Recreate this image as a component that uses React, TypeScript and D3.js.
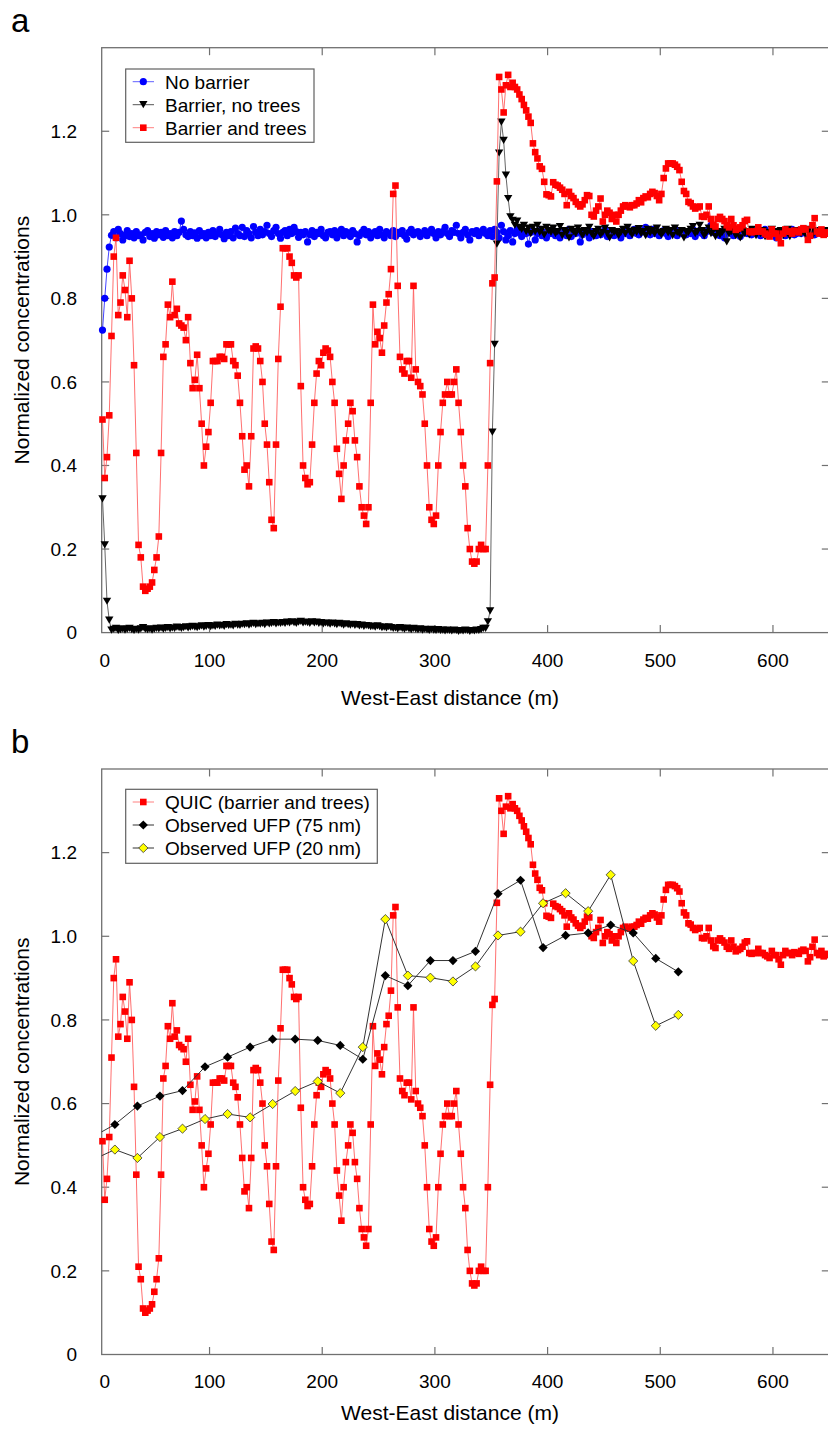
import React from 'react';
import * as d3 from 'd3';

// Model grid: distance (m) of the first QUIC cell and grid spacing
const GRID_START = 5;
const GRID_STEP = 2;

// QUIC: barrier and trees (red squares)
const barrierAndTrees = [
  0.51,0.37,0.42,0.52,0.71,0.90,0.945,0.76,0.79,0.855,
  0.82,0.755,0.89,0.80,0.64,0.43,0.21,0.18,0.11,0.10,
  0.105,0.11,0.12,0.15,0.18,0.23,0.43,0.66,0.69,0.785,
  0.755,0.84,0.76,0.775,0.74,0.735,0.73,0.70,0.755,0.645,
  0.585,0.605,0.665,0.585,0.50,0.40,0.445,0.48,0.55,0.65,
  0.65,0.65,0.66,0.66,0.655,0.69,0.69,0.69,0.65,0.64,
  0.615,0.55,0.47,0.39,0.40,0.35,0.47,0.68,0.685,0.68,
  0.65,0.60,0.50,0.45,0.36,0.27,0.25,0.45,0.655,0.78,
  0.92,0.92,0.92,0.90,0.885,0.855,0.85,0.855,0.59,0.40,
  0.37,0.355,0.36,0.45,0.55,0.62,0.65,0.64,0.67,0.68,
  0.675,0.66,0.60,0.55,0.44,0.38,0.32,0.40,0.46,0.50,
  0.55,0.53,0.46,0.42,0.35,0.30,0.28,0.26,0.30,0.55,
  0.785,0.69,0.72,0.705,0.67,0.735,0.79,0.81,0.87,1.05,
  1.07,0.83,0.66,0.63,0.62,0.65,0.65,0.61,0.83,0.63,
  0.60,0.59,0.57,0.50,0.40,0.30,0.27,0.26,0.28,0.40,
  0.48,0.55,0.57,0.60,0.57,0.57,0.60,0.63,0.55,0.48,
  0.40,0.35,0.25,0.20,0.17,0.165,0.17,0.20,0.21,0.20,
  0.20,0.40,0.645,0.836,0.85,1.08,1.33,1.30,1.245,1.31,
  1.335,1.306,1.316,1.306,1.30,1.288,1.277,1.263,1.25,1.235,
  1.22,1.171,1.15,1.135,1.116,1.11,1.079,1.049,1.047,1.044,
  1.078,1.072,1.07,1.065,1.06,1.05,1.023,1.055,1.045,1.04,
  1.031,1.025,1.02,1.025,1.035,1.047,1.045,1.0,0.996,1.01,
  1.02,1.039,0.984,1.0,1.01,1.005,0.99,1.0,0.984,1.0,
  1.01,1.02,1.023,1.02,1.018,1.023,1.023,1.027,1.035,1.03,
  1.04,1.044,1.042,1.05,1.055,1.052,1.045,1.035,1.05,1.088,
  1.111,1.123,1.123,1.123,1.12,1.115,1.107,1.079,1.057,1.05,
  1.031,1.028,1.02,1.015,1.018,1.02,0.996,0.995,1.0,1.02,
  0.99,0.976,0.972,0.99,0.995,0.99,0.985,0.975,0.97,0.99,
  0.975,0.964,0.967,0.97,0.975,0.985,0.988,0.96,0.958,0.96,
  0.96,0.97,0.96,0.96,0.955,0.952,0.948,0.965,0.955,0.955,
  0.945,0.932,0.955,0.965,0.96,0.96,0.955,0.962,0.96,0.958,
  0.965,0.968,0.965,0.94,0.95,0.975,0.992,0.96,0.955,0.965,
  0.952,0.958,0.955,
];

// QUIC: barrier, no trees (black triangles)
const barrierNoTrees = [
  0.32,0.21,0.075,0.03,0.006,0.008,0.01,0.005,0.007,0.009,
  0.006,0.008,0.01,0.007,0.005,0.008,0.006,0.009,0.012,0.008,
  0.007,0.009,0.006,0.008,0.01,0.009,0.011,0.008,0.01,0.012,
  0.009,0.011,0.01,0.013,0.012,0.01,0.012,0.014,0.011,0.013,
  0.015,0.013,0.012,0.014,0.016,0.013,0.015,0.017,0.014,0.016,
  0.015,0.018,0.016,0.017,0.015,0.019,0.017,0.018,0.016,0.02,
  0.018,0.017,0.02,0.019,0.021,0.018,0.02,0.022,0.019,0.021,
  0.02,0.022,0.019,0.023,0.021,0.022,0.024,0.021,0.023,0.022,
  0.024,0.022,0.025,0.023,0.026,0.024,0.022,0.025,0.027,0.023,
  0.025,0.024,0.022,0.026,0.023,0.025,0.022,0.024,0.021,0.023,
  0.022,0.02,0.023,0.021,0.019,0.022,0.02,0.018,0.021,0.019,
  0.018,0.02,0.017,0.019,0.016,0.018,0.015,0.017,0.016,0.014,
  0.015,0.013,0.016,0.014,0.012,0.013,0.011,0.014,0.012,0.01,
  0.011,0.009,0.012,0.01,0.008,0.011,0.009,0.007,0.01,0.008,
  0.007,0.009,0.006,0.008,0.007,0.005,0.008,0.006,0.005,0.007,
  0.005,0.006,0.004,0.006,0.005,0.004,0.006,0.005,0.003,0.005,
  0.004,0.006,0.005,0.003,0.005,0.004,0.006,0.005,0.007,0.01,
  0.01,0.026,0.052,0.48,0.69,0.93,1.148,1.222,1.178,1.095,
  1.039,0.995,0.987,0.975,0.985,0.97,0.965,0.975,0.96,0.968,
  0.955,0.97,0.96,0.975,0.958,0.965,0.952,0.97,0.962,0.958,
  0.968,0.955,0.96,0.972,0.95,0.962,0.958,0.945,0.965,0.96,
  0.955,0.968,0.96,0.95,0.962,0.957,0.97,0.955,0.948,0.96,
  0.965,0.952,0.958,0.968,0.955,0.945,0.962,0.958,0.96,0.95,
  0.958,0.965,0.955,0.97,0.96,0.952,0.963,0.958,0.967,0.955,
  0.96,0.95,0.965,0.957,0.962,0.955,0.968,0.958,0.952,0.96,
  0.965,0.957,0.962,0.95,0.968,0.958,0.955,0.962,0.945,0.96,
  0.958,0.965,0.972,0.955,0.96,0.975,0.962,0.95,0.958,0.968,
  0.955,0.962,0.948,0.96,0.952,0.958,0.965,0.935,0.955,0.96,
  0.962,0.95,0.958,0.945,0.962,0.955,0.96,0.952,0.965,0.958,
  0.95,0.96,0.955,0.962,0.948,0.958,0.952,0.965,0.96,0.955,
  0.958,0.962,0.95,0.956,0.965,0.948,0.96,0.955,0.962,0.958,
  0.955,0.96,0.952,0.965,0.958,0.95,0.962,0.956,0.96,0.953,
  0.958,0.962,0.955,
];

// QUIC: no barrier (blue circles)
const noBarrier = [
  0.724,0.80,0.87,0.923,0.951,0.96,0.945,0.965,0.955,0.94,
  0.95,0.962,0.948,0.955,0.945,0.96,0.95,0.952,0.94,0.958,
  0.962,0.948,0.955,0.944,0.96,0.952,0.958,0.946,0.962,0.95,
  0.955,0.945,0.96,0.95,0.958,0.985,0.965,0.952,0.948,0.96,
  0.95,0.957,0.944,0.962,0.95,0.955,0.945,0.958,0.95,0.962,
  0.948,0.955,0.965,0.952,0.943,0.958,0.95,0.96,0.945,0.968,
  0.955,0.95,0.97,0.948,0.962,0.955,0.945,0.972,0.958,0.95,
  0.965,0.952,0.96,0.975,0.955,0.948,0.962,0.97,0.955,0.944,
  0.958,0.962,0.95,0.965,0.955,0.97,0.96,0.946,0.958,0.952,
  0.96,0.935,0.952,0.962,0.948,0.958,0.955,0.965,0.95,0.945,
  0.958,0.96,0.952,0.962,0.945,0.955,0.965,0.95,0.96,0.956,
  0.948,0.962,0.955,0.935,0.95,0.958,0.965,0.952,0.96,0.945,
  0.955,0.96,0.95,0.965,0.952,0.945,0.96,0.955,0.95,0.962,
  0.948,0.958,0.955,0.962,0.95,0.942,0.958,0.965,0.952,0.958,
  0.96,0.948,0.955,0.962,0.95,0.958,0.965,0.955,0.945,0.96,
  0.952,0.96,0.97,0.955,0.948,0.962,0.958,0.975,0.955,0.945,
  0.958,0.965,0.952,0.94,0.96,0.955,0.962,0.95,0.958,0.965,
  0.955,0.95,0.962,0.948,0.965,0.958,0.945,0.975,0.96,0.94,
  0.95,0.962,0.935,0.955,0.965,0.958,0.948,0.96,0.955,0.93,
  0.958,0.962,0.94,0.955,0.965,0.95,0.958,0.945,0.96,0.955,
  0.962,0.95,0.958,0.945,0.96,0.955,0.95,0.965,0.948,0.958,
  0.955,0.96,0.935,0.952,0.962,0.958,0.945,0.96,0.955,0.95,
  0.96,0.952,0.958,0.965,0.948,0.955,0.962,0.95,0.958,0.96,
  0.945,0.958,0.955,0.962,0.95,0.96,0.965,0.955,0.952,0.958,
  0.962,0.97,0.958,0.952,0.965,0.955,0.96,0.95,0.958,0.962,
  0.955,0.948,0.96,0.958,0.965,0.95,0.955,0.962,0.958,0.952,
  0.96,0.955,0.965,0.948,0.958,0.962,0.955,0.95,0.96,0.965,
  0.975,0.958,0.962,0.955,0.95,0.96,0.945,0.958,0.962,0.955,
  0.95,0.96,0.955,0.948,0.962,0.958,0.955,0.96,0.952,0.958,
  0.962,0.955,0.95,0.958,0.965,0.952,0.958,0.955,0.96,0.945,
  0.958,0.962,0.955,0.95,0.96,0.958,0.965,0.952,0.955,0.96,
  0.955,0.958,0.962,0.95,0.96,0.955,0.952,0.958,0.962,0.955,
  0.958,0.955,0.96,
];

// Observed UFP along the transect (first station lies just west of the axis start)
const obsDistance = [-4,16,36,56,76,96,116,136,156,176,196,216,236,256,276,296,316,336,356,376,396,416,436,456,476,496,516];
const ufp75 = [0.52,0.55,0.594,0.618,0.631,0.688,0.711,0.735,0.754,0.754,0.751,0.739,0.706,0.906,0.882,0.942,0.942,0.964,1.102,1.134,0.973,1.002,1.008,1.027,1.008,0.947,0.915];
const ufp20 = [0.465,0.49,0.47,0.52,0.54,0.563,0.575,0.567,0.599,0.63,0.653,0.625,0.735,1.041,0.906,0.901,0.892,0.928,1.002,1.011,1.079,1.103,1.06,1.147,0.941,0.786,0.812];

const xTickValues = [0, 100, 200, 300, 400, 500, 600];
const yTickValues = [0, 0.2, 0.4, 0.6, 0.8, 1.0, 1.2];

const FONT = "'Liberation Sans', Arial, Helvetica, sans-serif";
const LEFT = 101.7;
const RIGHT = 829.3;
const x = d3.scaleLinear().domain([4.3, 650]).range([LEFT, RIGHT]);

type Pt = { d: number; v: number };
const gridSeries = (vals: number[]): Pt[] => vals.map((v, i) => ({ d: GRID_START + GRID_STEP * i, v }));

const SQUARE = 'M-3.3,-3.3h6.6v6.6h-6.6Z';
const TRI_DOWN = 'M-4.2,-3.6L4.2,-3.6L0,3.6Z';
const DIAMOND = 'M0,-4.6L4.6,0L0,4.6L-4.6,0Z';

function Markers({ pts, y, shape, fill, stroke, sw, r }: any) {
  return (
    <g>
      {pts.map((p: Pt, i: number) =>
        shape === 'circle' ? (
          <circle key={i} cx={x(p.d)} cy={y(p.v)} r={r} fill={fill} stroke={stroke} strokeWidth={sw} />
        ) : (
          <path key={i} d={shape} transform={`translate(${x(p.d)},${y(p.v)})`} fill={fill} stroke={stroke} strokeWidth={sw} />
        )
      )}
    </g>
  );
}

function Frame({ top, bottom, y, letter, letterY, labelDy, titleDy }: any) {
  const axisColor = '#707070';
  const tickLen = 7.5;
  return (
    <g fontFamily={FONT}>
      <text x={11} y={letterY} fontSize={33} fill="#000">{letter}</text>
      <rect x={LEFT} y={top} width={RIGHT - LEFT} height={bottom - top} fill="none" stroke={axisColor} strokeWidth={1.3} />
      {xTickValues.filter((t) => t > 0).map((t) => (
        <g key={'xt' + t}>
          <line x1={x(t)} x2={x(t)} y1={bottom} y2={bottom - tickLen} stroke={axisColor} strokeWidth={1.2} />
          <line x1={x(t)} x2={x(t)} y1={top} y2={top + tickLen} stroke={axisColor} strokeWidth={1.2} />
        </g>
      ))}
      {xTickValues.map((t) => (
        <text key={'xl' + t} x={t === 0 ? LEFT + 3 : x(t)} y={bottom + labelDy} fontSize={19} textAnchor="middle" fill="#000">
          {t}
        </text>
      ))}
      {yTickValues.filter((t) => t > 0).map((t) => (
        <g key={'yt' + t}>
          <line x1={LEFT} x2={LEFT + tickLen} y1={y(t)} y2={y(t)} stroke={axisColor} strokeWidth={1.2} />
          <line x1={RIGHT} x2={RIGHT - tickLen} y1={y(t)} y2={y(t)} stroke={axisColor} strokeWidth={1.2} />
        </g>
      ))}
      {yTickValues.map((t) => (
        <text key={'yl' + t} x={77} y={y(t) + 6.7} fontSize={19} textAnchor="end" fill="#000">
          {t === 0 ? '0' : d3.format('.1f')(t)}
        </text>
      ))}
      <text x={450} y={bottom + titleDy} fontSize={21} textAnchor="middle" fill="#000">
        West-East distance (m)
      </text>
      <text transform={`translate(29,${(top + bottom) / 2}) rotate(-90)`} fontSize={21} textAnchor="middle" fill="#000">
        Normalized concentrations
      </text>
    </g>
  );
}

function LegendBox({ top, right, height, items }: any) {
  const left = 125.7;
  return (
    <g fontFamily={FONT}>
      <rect x={left} y={top} width={right - left} height={height} fill="#fff" stroke="#606060" strokeWidth={1.2} />
      {items.map((it: any, i: number) => {
        const cy = top + 12.7 + i * 23;
        return (
          <g key={i}>
            <line x1={132.7} x2={154} y1={cy} y2={cy} stroke={it.line} strokeWidth={1} />
            {it.shape === 'circle' ? (
              <circle cx={143.3} cy={cy} r={3.6} fill={it.fill} />
            ) : (
              <path d={it.shape} transform={`translate(143.3,${cy})`} fill={it.fill} stroke={it.stroke} strokeWidth={it.sw} />
            )}
            <text x={165} y={cy + 6.8} fontSize={19} fill="#000">{it.label}</text>
          </g>
        );
      })}
    </g>
  );
}

export default function App() {
  const panelA = { top: 47.7, bottom: 632.6 };
  const panelB = { top: 769, bottom: 1354.5 };
  const yA = d3.scaleLinear().domain([0, 1.4]).range([panelA.bottom, panelA.top]);
  const yB = d3.scaleLinear().domain([0, 1.4]).range([panelB.bottom, panelB.top]);

  const red = gridSeries(barrierAndTrees);
  const black = gridSeries(barrierNoTrees);
  const blue = gridSeries(noBarrier);
  const o75 = obsDistance.map((d, i) => ({ d, v: ufp75[i] }));
  const o20 = obsDistance.map((d, i) => ({ d, v: ufp20[i] }));

  const lineA = d3.line<Pt>().x((p) => x(p.d)).y((p) => yA(p.v));
  const lineB = d3.line<Pt>().x((p) => x(p.d)).y((p) => yB(p.v));

  return (
    <div style={{ position: 'absolute', left: 0, top: 0, width: 828, height: 1429, background: '#fff' }}>
      <svg width={828} height={1429} viewBox="0 0 828 1429" style={{ display: 'block' }}>
        <defs>
          <clipPath id="clipB">
            <rect x={LEFT} y={panelB.top} width={RIGHT - LEFT} height={panelB.bottom - panelB.top} />
          </clipPath>
        </defs>
        <rect width={828} height={1429} fill="#fff" />
        {/* Panel a */}
        <Frame top={panelA.top} bottom={panelA.bottom} y={yA} letter="a" letterY={32} labelDy={34.5} titleDy={72.5} />
        <path d={lineA(blue) || ''} fill="none" stroke="#3030ff" strokeWidth={0.9} />
        <Markers pts={blue} y={yA} shape="circle" r={3.6} fill="#0000ff" stroke="none" sw={0} />
        <path d={lineA(black) || ''} fill="none" stroke="#555" strokeWidth={0.9} />
        <Markers pts={black} y={yA} shape={TRI_DOWN} fill="#000" stroke="none" sw={0} />
        <path d={lineA(red) || ''} fill="none" stroke="#ff6060" strokeWidth={0.9} />
        <Markers pts={red} y={yA} shape={SQUARE} fill="#ff0000" stroke="none" sw={0} />
        <LegendBox
          top={69}
          right={314}
          height={73.3}
          items={[
            { label: 'No barrier', shape: 'circle', fill: '#0000ff', line: '#6060ff' },
            { label: 'Barrier, no trees', shape: TRI_DOWN, fill: '#000', line: '#555', stroke: 'none', sw: 0 },
            { label: 'Barrier and trees', shape: SQUARE, fill: '#ff0000', line: '#ff8080', stroke: 'none', sw: 0 },
          ]}
        />

        {/* Panel b */}
        <Frame top={panelB.top} bottom={panelB.bottom} y={yB} letter="b" letterY={753} labelDy={33} titleDy={65.5} />
        <path d={lineB(red) || ''} fill="none" stroke="#ff6060" strokeWidth={0.9} />
        <Markers pts={red} y={yB} shape={SQUARE} fill="#ff0000" stroke="none" sw={0} />
        <g clipPath="url(#clipB)">
          <path d={lineB(o75) || ''} fill="none" stroke="#333" strokeWidth={1} />
          <Markers pts={o75} y={yB} shape={DIAMOND} fill="#000" stroke="none" sw={0} />
          <path d={lineB(o20) || ''} fill="none" stroke="#333" strokeWidth={1} />
          <Markers pts={o20} y={yB} shape={DIAMOND} fill="#ffff00" stroke="#333" sw={0.8} />
        </g>
        <LegendBox
          top={789.3}
          right={377.3}
          height={74}
          items={[
            { label: 'QUIC (barrier and trees)', shape: SQUARE, fill: '#ff0000', line: '#ff8080', stroke: 'none', sw: 0 },
            { label: 'Observed UFP (75 nm)', shape: DIAMOND, fill: '#000', line: '#333', stroke: 'none', sw: 0 },
            { label: 'Observed UFP (20 nm)', shape: DIAMOND, fill: '#ffff00', line: '#333', stroke: '#333', sw: 0.8 },
          ]}
        />
      </svg>
    </div>
  );
}
